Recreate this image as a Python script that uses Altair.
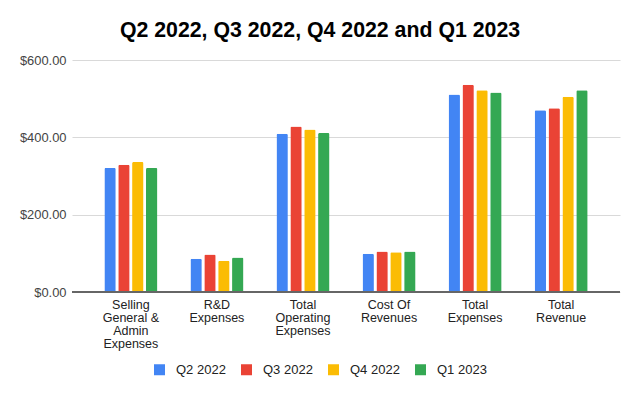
import altair as alt
import pandas as pd

categories = ["Selling General & Admin Expenses", "R&D Expenses", "Total Operating Expenses",
              "Cost Of Revenues", "Total Expenses", "Total Revenue"]
series = ["Q2 2022", "Q3 2022", "Q4 2022", "Q1 2023"]
q2_2022 = [321, 86, 409, 99, 511, 470]
q3_2022 = [329, 97, 428, 105, 536, 475]
q4_2022 = [336, 81, 420, 103, 522, 505]
q1_2023 = [321, 89, 411, 105, 516, 522]
colors = ["#4285F4", "#EA4335", "#FBBC04", "#34A853"]

rows = []
for s, vals in zip(series, [q2_2022, q3_2022, q4_2022, q1_2023]):
    for c, v in zip(categories, vals):
        rows.append({"category": c, "series": s, "value": v})
df = pd.DataFrame(rows)

FONT = "Liberation Sans"

label_expr = ("datum.label == 'Selling General & Admin Expenses' ? ['Selling', 'General &', 'Admin', 'Expenses'] : "
              "datum.label == 'R&D Expenses' ? ['R&D', 'Expenses'] : "
              "datum.label == 'Total Operating Expenses' ? ['Total', 'Operating', 'Expenses'] : "
              "datum.label == 'Cost Of Revenues' ? ['Cost Of', 'Revenues'] : "
              "datum.label == 'Total Expenses' ? ['Total', 'Expenses'] : ['Total', 'Revenue']")

chart = alt.Chart(df).mark_bar(cornerRadiusTopLeft=1.5, cornerRadiusTopRight=1.5).encode(
    x=alt.X("category:N", sort=categories, title=None,
            scale=alt.Scale(paddingInner=0.384, paddingOuter=0.376),
            axis=alt.Axis(labelAngle=0, labelExpr=label_expr, labelFont=FONT, labelFontSize=12.5,
                          labelColor="#222222", labelLineHeight=13.2, ticks=False, domain=False,
                          labelPadding=6, labelBaseline="top")),
    xOffset=alt.XOffset("series:N", sort=series, scale=alt.Scale(paddingInner=0.18)),
    y=alt.Y("value:Q", title=None,
            scale=alt.Scale(domain=[0, 600]),
            axis=alt.Axis(values=[0, 200, 400, 600], format="$,.2f", labelFont=FONT,
                          labelFontSize=12.9, labelColor="#444444", ticks=False, domain=False,
                          gridColor="#d9d9d9", labelPadding=6)),
    color=alt.Color("series:N", sort=series, scale=alt.Scale(domain=series, range=colors),
                    legend=alt.Legend(title=None, orient="none", direction="horizontal",
                                      legendX=81, legendY=303, symbolType="square",
                                      symbolSize=121, symbolStrokeWidth=0, labelFont=FONT,
                                      labelFontSize=13, labelColor="#222222", labelOffset=10,
                                      columnPadding=14)),
)

baseline = alt.Chart(pd.DataFrame({"y": [0]})).mark_rule(color="#666666", strokeWidth=2).encode(y="y:Q")

final = alt.layer(chart, baseline).properties(
    width=548, height=232,
    padding={"left": 64, "top": 52, "right": 12, "bottom": 96},
    autosize=alt.AutoSizeParams(type="none"),
    title=alt.TitleParams("Q2 2022, Q3 2022, Q4 2022 and Q1 2023", font=FONT, fontSize=21.3,
                          fontWeight="bold", color="#000000", anchor="middle", dx=-26, offset=13),
).configure_view(stroke=None)

final.save("out.html", embed_options={"renderer": "svg", "actions": False})
